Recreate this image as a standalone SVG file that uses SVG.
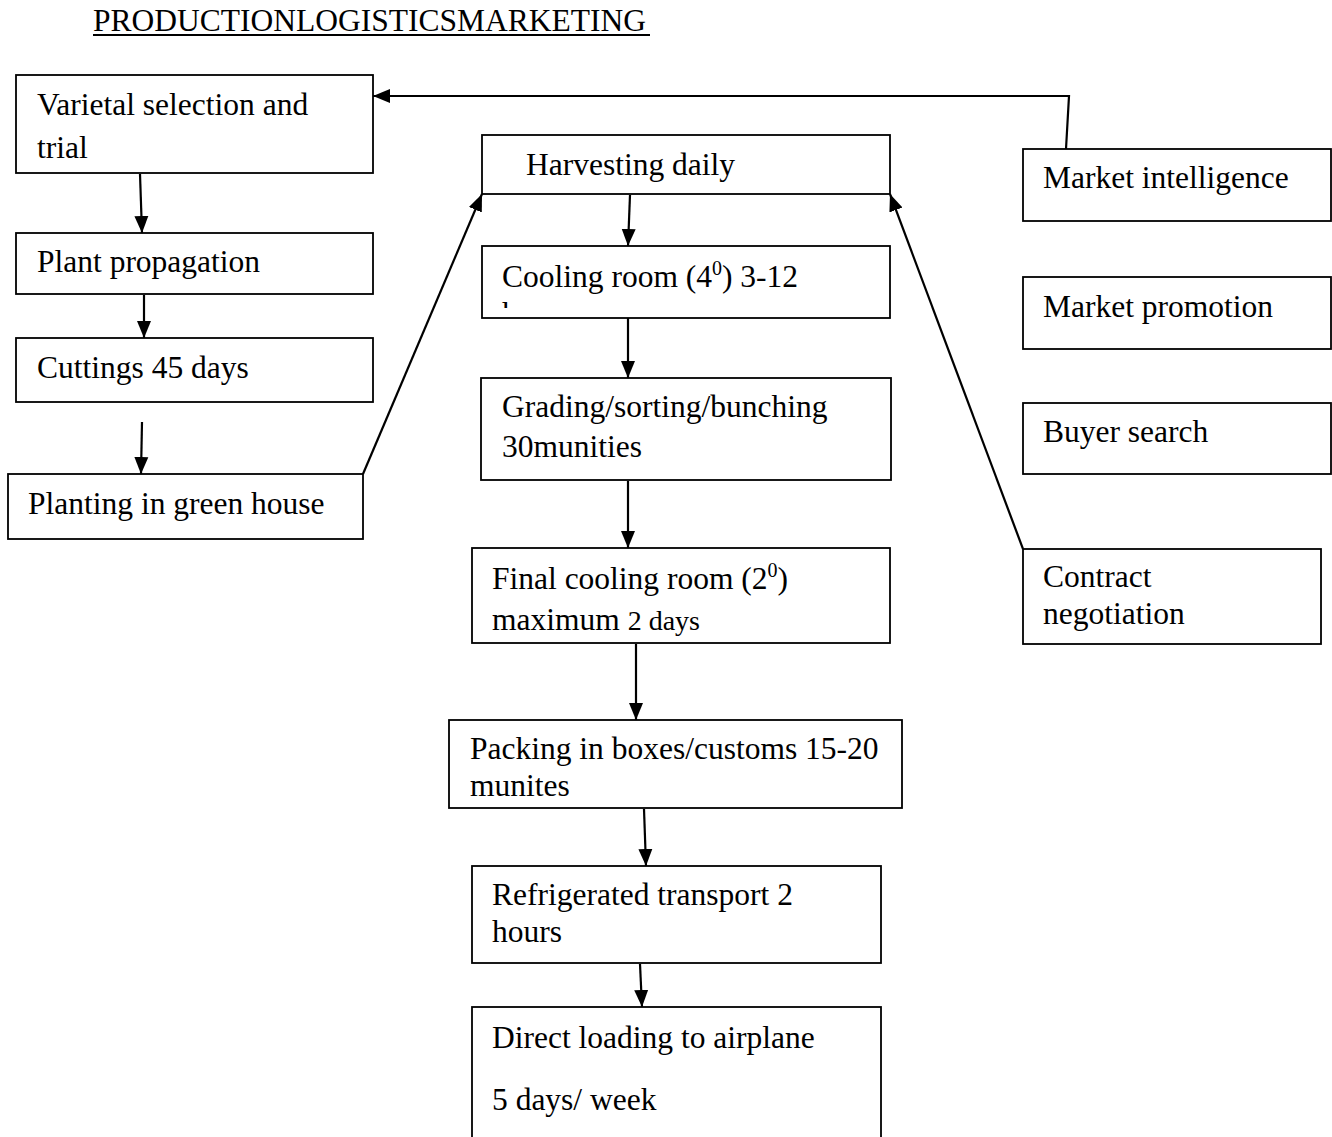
<svg xmlns="http://www.w3.org/2000/svg" width="1332" height="1137" viewBox="0 0 1332 1137">
<style>
  .box { fill: #fff; stroke: #000; stroke-width: 1.8; }
  .t { font-family: "Liberation Serif", "Times New Roman", serif; font-size: 31.5px; fill: #000; }
  .sup { font-size: 20px; }
  .edge { fill: none; stroke: #000; stroke-width: 2.2; }
</style>
<defs>
  <marker id="arr" markerUnits="userSpaceOnUse" markerWidth="18" markerHeight="18" viewBox="0 0 18 18" refX="17" refY="9" orient="auto">
    <path d="M0,2 L17,9 L0,16 Z" fill="#000"/>
  </marker>
  <clipPath id="clipCool"><rect x="483" y="247" width="406" height="61"/></clipPath>
</defs>
<rect width="1332" height="1137" fill="#fff"/>

<text class="t" x="93" y="31">PRODUCTIONLOGISTICSMARKETING</text>
<line x1="93" y1="35" x2="650" y2="35" stroke="#000" stroke-width="2"/>

<g id="connectors">
  <line class="edge" x1="140" y1="174" x2="142" y2="233" marker-end="url(#arr)"/>
  <line class="edge" x1="144" y1="295" x2="144" y2="338" marker-end="url(#arr)"/>
  <line class="edge" x1="142" y1="422" x2="141" y2="474" marker-end="url(#arr)"/>
  <line class="edge" x1="363" y1="474" x2="482" y2="194" marker-end="url(#arr)"/>
  <line class="edge" x1="630" y1="195" x2="628" y2="246" marker-end="url(#arr)"/>
  <line class="edge" x1="628" y1="318" x2="628" y2="378" marker-end="url(#arr)"/>
  <line class="edge" x1="628" y1="481" x2="628" y2="548" marker-end="url(#arr)"/>
  <line class="edge" x1="636" y1="644" x2="636" y2="720" marker-end="url(#arr)"/>
  <line class="edge" x1="644" y1="809" x2="646" y2="866" marker-end="url(#arr)"/>
  <line class="edge" x1="640" y1="964" x2="642" y2="1007" marker-end="url(#arr)"/>
  <polyline class="edge" points="1066,149 1069,96 373,96" marker-end="url(#arr)"/>
  <line class="edge" x1="1023" y1="549" x2="890" y2="194" marker-end="url(#arr)"/>
</g>

<g id="varietal">
  <rect class="box" x="16" y="75" width="357" height="98"/>
  <text class="t" x="37" y="115">Varietal selection and</text>
  <text class="t" x="37" y="158">trial</text>
</g>
<g id="propagation">
  <rect class="box" x="16" y="233" width="357" height="61"/>
  <text class="t" x="37" y="272">Plant propagation</text>
</g>
<g id="cuttings">
  <rect class="box" x="16" y="338" width="357" height="64"/>
  <text class="t" x="37" y="378">Cuttings 45 days</text>
</g>
<g id="planting">
  <rect class="box" x="8" y="474" width="355" height="65"/>
  <text class="t" x="28" y="514">Planting in green house</text>
</g>

<g id="harvesting">
  <rect class="box" x="482" y="135" width="408" height="59"/>
  <text class="t" x="526" y="175">Harvesting daily</text>
</g>
<g id="cooling">
  <rect class="box" x="482" y="246" width="408" height="72"/>
  <text class="t" x="502" y="287">Cooling room (4<tspan class="sup" dy="-12">0</tspan><tspan dy="12">) 3-12</tspan></text>
  <text class="t" x="502" y="324" clip-path="url(#clipCool)">hours</text>
</g>
<g id="grading">
  <rect class="box" x="481" y="378" width="410" height="102"/>
  <text class="t" x="502" y="417">Grading/sorting/bunching</text>
  <text class="t" x="502" y="457">30munities</text>
</g>
<g id="finalcooling">
  <rect class="box" x="472" y="548" width="418" height="95"/>
  <text class="t" x="492" y="589">Final cooling room (2<tspan class="sup" dy="-12">0</tspan><tspan dy="12">)</tspan></text>
  <text class="t" x="492" y="630">maximum <tspan style="font-size:28px">2 days</tspan></text>
</g>
<g id="packing">
  <rect class="box" x="449" y="720" width="453" height="88"/>
  <text class="t" x="470" y="759">Packing in boxes/customs 15-20</text>
  <text class="t" x="470" y="796">munites</text>
</g>
<g id="transport">
  <rect class="box" x="472" y="866" width="409" height="97"/>
  <text class="t" x="492" y="905">Refrigerated transport 2</text>
  <text class="t" x="492" y="942">hours</text>
</g>
<g id="loading">
  <rect class="box" x="472" y="1007" width="409" height="150"/>
  <text class="t" x="492" y="1048">Direct loading to airplane</text>
  <text class="t" x="492" y="1110">5 days/ week</text>
</g>

<g id="intelligence">
  <rect class="box" x="1023" y="149" width="308" height="72"/>
  <text class="t" x="1043" y="188">Market intelligence</text>
</g>
<g id="promotion">
  <rect class="box" x="1023" y="277" width="308" height="72"/>
  <text class="t" x="1043" y="317">Market promotion</text>
</g>
<g id="buyer">
  <rect class="box" x="1023" y="403" width="308" height="71"/>
  <text class="t" x="1043" y="442">Buyer search</text>
</g>
<g id="contract">
  <rect class="box" x="1023" y="549" width="298" height="95"/>
  <text class="t" x="1043" y="587">Contract</text>
  <text class="t" x="1043" y="624">negotiation</text>
</g>
</svg>
